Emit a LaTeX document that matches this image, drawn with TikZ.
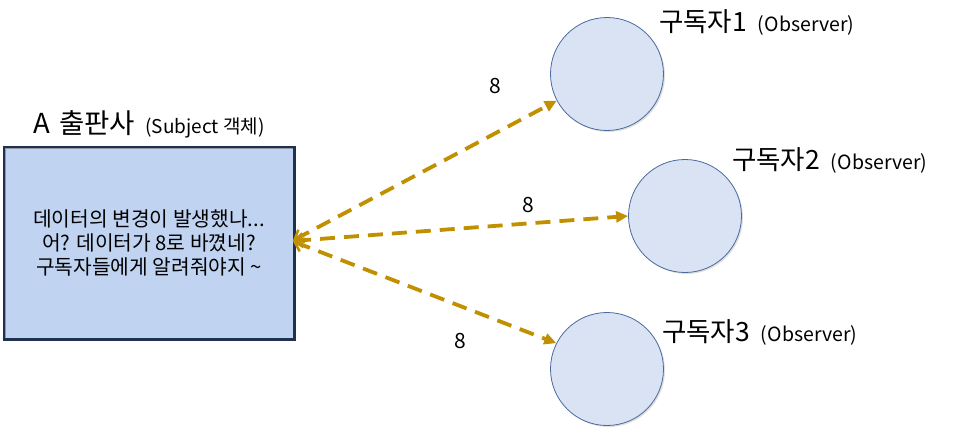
\documentclass[tikz,border=0pt]{standalone}
\usepackage{fontspec}
\setmainfont{Noto Sans CJK KR}
\usetikzlibrary{arrows.meta,shadows}
\definecolor{arrowc}{HTML}{C09000}
\definecolor{boxfill}{HTML}{C0D4F2}
\definecolor{boxline}{HTML}{1F3050}
\definecolor{circfill}{HTML}{D9E3F3}
\definecolor{circline}{HTML}{4A6A9E}
\tikzset{
  obs/.style={circle, minimum size=113pt, inner sep=0pt, fill=circfill, draw=circline, line width=0.8pt,
    drop shadow={shadow xshift=1.5pt, shadow yshift=-1.5pt, opacity=0.25}},
  link/.style={draw=arrowc, line width=3.8pt, dash pattern=on 15pt off 9pt,
    {Straight Barb[length=8pt,width=14pt,line width=2.5pt]}-{Triangle[length=12pt,width=11pt]}, shorten <=1pt},
  lbl/.style={font=\fontsize{21}{24}\selectfont, inner sep=0pt},
  ttl/.style={font=\fontsize{26.5}{30}\selectfont, inner sep=0pt, anchor=west}
}
\newcommand{\obsfont}{\fontsize{19.5}{22}\selectfont}
\begin{document}
\begin{tikzpicture}[x=1pt,y=-1pt]
\useasboundingbox (0,0) rectangle (955,436);
% subject box
\node[draw=boxline, line width=3pt, fill=boxfill, minimum width=290pt, minimum height=192pt, inner sep=0pt,
  align=center, font=\fontsize{20.3}{24}\selectfont] (subj) at (149,243)
  {데이터의 변경이 발생했나...\\어? 데이터가 8로 바꼈네?\\구독자들에게 알려줘야지 \textasciitilde};
\draw[white, opacity=0.5, line width=1pt] ([shift={(3,-3)}]subj.south west) -- ([shift={(3,3)}]subj.north west) -- ([shift={(-3,3)}]subj.north east);
\node[inner sep=0pt] (subjt) at (149,124) {\fontsize{27.5}{30}\selectfont A\hspace{3pt} 출판사\hspace{4pt} \fontsize{19}{22}\selectfont (Subject 객체)};
% observers
\node[obs] (o1) at (607,74) {};
\node[obs] (o2) at (685,216) {};
\node[obs] (o3) at (607,369) {};
\node[ttl] (t1) at (659,22) {구독자1\hspace{5pt} \obsfont(Observer)};
\node[ttl] (t2) at (732,160) {구독자2\hspace{5pt} \obsfont(Observer)};
\node[ttl] (t3) at (662,332) {구독자3\hspace{5pt} \obsfont(Observer)};
% connectors
\coordinate (src) at (292,241);
\draw[link] (src) -- (o1.-152);
\draw[link] (src) -- (o2.west);
\draw[link] (src) -- (o3.153);
\node[lbl] (l1) at (495,86) {8};
\node[lbl] (l2) at (528,205) {8};
\node[lbl] (l3) at (460,341) {8};
\end{tikzpicture}
\end{document}
